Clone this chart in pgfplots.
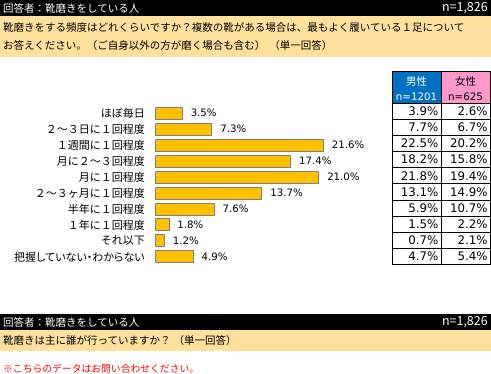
\documentclass[border=0pt]{standalone}
\usepackage{pgfplots}
\pgfplotsset{compat=1.18}
\usepackage{pgfplotstable}
\usepackage{fontspec}
\setmainfont{Noto Sans CJK JP}
\newfontfamily\numfont{DejaVu Sans}
\newfontfamily\paltfont[CharacterWidth=AlternateProportional]{Noto Sans CJK JP}
\definecolor{beige}{HTML}{FFE09C}
\definecolor{gold}{HTML}{FFC000}
\definecolor{mblue}{HTML}{0070C0}
\definecolor{fpink}{HTML}{FF99CC}
\definecolor{barline}{HTML}{7F7F7F}
\pgfkeys{/pgf/number format/assume math mode=true}
\newcommand{\fs}{\fontsize{10.5bp}{12bp}\selectfont}
\pgfplotstableread{
row label total male female
0 {ほぼ毎日} 3.5 3.9 2.6
1 {２～３日に１回程度} 7.3 7.7 6.7
2 {１週間に１回程度} 21.6 22.5 20.2
3 {月に２～３回程度} 17.4 18.2 15.8
4 {月に１回程度} 21.0 21.8 19.4
5 {２～３ヶ月に１回程度} 13.7 13.1 14.9
6 {半年に１回程度} 7.6 5.9 10.7
7 {１年に１回程度} 1.8 1.5 2.2
8 {それ以下} 1.2 0.7 2.1
9 {{\paltfont 把握していない・わからない}} 4.9 4.7 5.4
}\data
\begin{document}
\begin{tikzpicture}
\path[use as bounding box] (0,0) rectangle (491bp,-374bp);
\begin{scope}[x=1bp,y=-1bp]
% top header
\fill[black] (0,0) rectangle (491,16);
\fill[beige] (0,16) rectangle (491,57);
\node[anchor=west,inner sep=0,text=white,font=\fs] at (3,8) {回答者：靴磨きをしている人};
\node[anchor=east,inner sep=0,text=white,font=\fontsize{12.5bp}{14bp}\selectfont] at (488,8) {n=1,826};
\node[anchor=west,inner sep=0,font=\fs] at (3,27.5) {靴磨きをする頻度はどれくらいですか？複数の靴がある場合は、最もよく履いている１足について};
\node[anchor=west,inner sep=0,font=\fs] at (3,45.5) {お答えください。（ご自身以外の方が磨く場合も含む）\hspace{4bp}（単一回答）};
% table header
\fill[mblue] (392.3,71.7) rectangle (441,103.3);
\fill[fpink] (441,71.7) rectangle (490,103.3);
\draw[black,line width=0.8] (392.3,71.7) rectangle (490,103.3);
\draw[black,line width=0.8] (441,71.7) -- (441,103.3);
\node[text=white,font=\fs,inner sep=0] at (416.6,81.5) {男性};
\node[text=white,font=\numfont\fontsize{10.3bp}{12bp}\selectfont,inner sep=0] at (416.6,96.5) {n=1201};
\node[text=black,font=\fs,inner sep=0] at (465.5,81.5) {女性};
\node[text=black,font=\numfont\fontsize{10.3bp}{12bp}\selectfont,inner sep=0] at (465.5,96.5) {n=625};
% bottom header
\fill[black] (0,314) rectangle (491,330);
\fill[beige] (0,330) rectangle (491,351);
\node[anchor=west,inner sep=0,text=white,font=\fs] at (3,322) {回答者：靴磨きをしている人};
\node[anchor=east,inner sep=0,text=white,font=\fontsize{12.5bp}{14bp}\selectfont] at (488,322) {n=1,826};
\node[anchor=west,inner sep=0,font=\fs] at (3,340.5) {靴磨きは主に誰が行っていますか？\hspace{3bp}（単一回答）};
\node[anchor=west,inner sep=0,font=\fontsize{9.8bp}{12bp}\selectfont,text=red] at (3,369) {※こちらのデータはお問い合わせください。};
\end{scope}
% bar chart
\begin{axis}[
  at={(155bp,-105.3bp)}, anchor=north west,
  x=7.8bp, y=15.95bp,
  xmin=0, xmax=30, ymin=-0.5, ymax=9.5, y dir=reverse,
  enlargelimits=false, clip=false,
  xbar, bar width=12bp, bar shift=0pt,
  axis line style={draw=none}, xtick=\empty,
  ytick={0,...,9}, yticklabels from table={\data}{label},
  major tick length=0pt,
  yticklabel style={font=\fontsize{11bp}{13bp}\selectfont, inner sep=0pt, xshift=-10bp},
  nodes near coords={\pgfmathprintnumber[fixed,fixed zerofill,precision=1]{\pgfplotspointmeta}\%},
  every node near coord/.append style={font=\numfont\fontsize{10.2bp}{12bp}\selectfont, anchor=west, inner sep=0pt, xshift=8bp},
  point meta=x,
]
\addplot[fill=gold, draw=barline, line width=0.9bp] table[x=total, y=row]{\data};
\end{axis}
% table values
\begin{axis}[
  at={(392.3bp,-103.3bp)}, anchor=north west,
  x=1bp, y=16.1bp,
  xmin=0, xmax=97.7, ymin=-0.5, ymax=9.5, y dir=reverse,
  enlargelimits=false, clip=false,
  xtick={48.7}, ytick={0.5,1.5,...,8.5},
  xticklabels={}, yticklabels={},
  major tick length=0pt,
  grid=major, grid style={black, line width=0.8bp},
  axis line style={black, line width=0.8bp},
  point meta=explicit,
  nodes near coords={\pgfmathprintnumber[fixed,fixed zerofill,precision=1]{\pgfplotspointmeta}\%},
  every node near coord/.append style={font=\numfont\fontsize{11.8bp}{13bp}\selectfont, anchor=east, inner sep=0pt},
]
\addplot[draw=none, mark=none] table[x expr=46.3, y=row, meta=male]{\data};
\addplot[draw=none, mark=none] table[x expr=95.6, y=row, meta=female]{\data};
\end{axis}
\end{tikzpicture}
\end{document}
